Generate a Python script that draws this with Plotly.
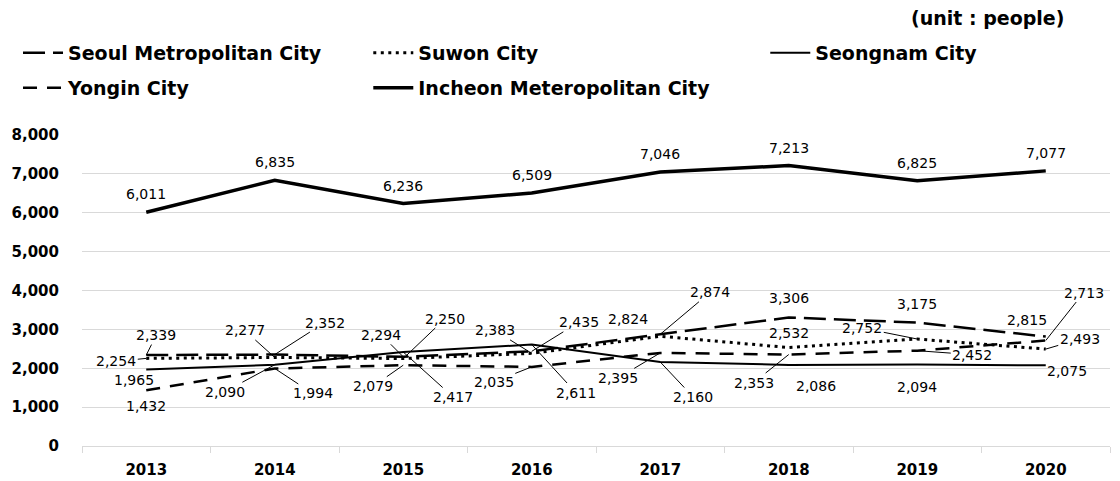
import plotly.graph_objects as go

years = ["2013", "2014", "2015", "2016", "2017", "2018", "2019", "2020"]
seoul = [2339, 2352, 2294, 2435, 2874, 3306, 3175, 2815]
suwon = [2254, 2277, 2250, 2383, 2824, 2532, 2752, 2493]
seongnam = [1965, 2090, 2417, 2611, 2160, 2086, 2094, 2075]
yongin = [1432, 1994, 2079, 2035, 2395, 2353, 2452, 2713]
incheon = [6011, 6835, 6236, 6509, 7046, 7213, 6825, 7077]

names = ["Seoul Metropolitan City", "Suwon City", "Seongnam City",
         "Yongin City", "Incheon Meteropolitan City"]
series = [seoul, suwon, seongnam, yongin, incheon]

FONT = "DejaVu Sans, sans-serif"
styles = [
    dict(color="black", width=2.5, dash="22px,8px"),
    dict(color="black", width=3, dash="3px,4.5px"),
    dict(color="black", width=2, dash="solid"),
    dict(color="black", width=2.5, dash="14px,10px"),
    dict(color="black", width=3.5, dash="solid"),
]

# label placement (pixel offsets from the point, leader line flag)
placements = [
    [(10, -20, True), (50, -32, True), (-22, -22, True), (47, -29, True),
     (50, -42, True), (0, -19, False), (0, -19, False), (-19, -17, False)],
    [(-30, 3, True), (-30, -27, True), (42, -40, True), (-37, -23, True),
     (-32, -17, False), (0, -15, False), (-55, -11, True), (34, -10, True)],
    [(-12, 10, False), (-50, 27, True), (50, 45, True), (44, 48, True),
     (33, 35, True), (27, 21, False), (0, 22, False), (21, 6, False)],
    [(0, 16, False), (38, 25, True), (-30, 21, True), (-38, 15, True),
     (-42, 25, True), (-35, 28, True), (55, 4, True), (38, -48, True)],
    [(0, -18, False)] * 8,
]

W, H = 1112, 473  # page adds an 8px body margin around the figure
legend_pos = [(0.009, 0.905), (0.324, 0.905), (0.681, 0.905), (0.009, 0.831), (0.324, 0.831)]

fig = go.Figure()
legend_ids = ["legend", "legend2", "legend3", "legend4", "legend5"]
for i, (nm, vals) in enumerate(zip(names, series)):
    fig.add_trace(go.Scatter(x=years, y=vals, name=nm, mode="lines",
                             line=styles[i], legend=legend_ids[i]))

annotations = []
for vals, place in zip(series, placements):
    for idx, (v, (dx, dy, lead)) in enumerate(zip(vals, place)):
        txt = f"{v:,}"
        if lead:
            annotations.append(dict(x=idx, y=v, text=txt, showarrow=True, ax=dx, ay=dy,
                                    arrowhead=0, arrowwidth=1, arrowcolor="black",
                                    standoff=0, font=dict(family=FONT, size=14, color="black")))
        else:
            annotations.append(dict(x=idx, y=v, text=txt, showarrow=False,
                                    xshift=dx, yshift=-dy,
                                    font=dict(family=FONT, size=14, color="black")))

annotations.append(dict(xref="paper", yref="paper", x=0.957, y=1.0, yshift=117,
                        xanchor="right", yanchor="middle", text="(unit : people)",
                        showarrow=False,
                        font=dict(family=FONT, size=19, color="black", weight="bold")))

layout_legends = {}
for lid, (lx, ly) in zip(legend_ids, legend_pos):
    layout_legends[lid] = dict(xref="container", yref="container", x=lx, y=ly,
                               xanchor="left", yanchor="middle", itemwidth=40,
                               bgcolor="rgba(0,0,0,0)",
                               font=dict(family=FONT, size=19, color="black", weight="bold"))

fig.update_layout(
    width=W, height=H,
    margin=dict(l=74, r=10, t=127, b=35, autoexpand=False),
    plot_bgcolor="white", paper_bgcolor="white",
    showlegend=True,
    annotations=annotations,
    **layout_legends,
)
fig.update_xaxes(type="category", range=[-0.5, 7.5], autorange=False,
                 showline=True, linecolor="#d9d9d9", linewidth=1,
                 ticks="outside", tickson="boundaries", ticklen=6, tickcolor="#d9d9d9",
                 showgrid=False, automargin=False, tickangle=0, ticklabelstandoff=10,
                 tickfont=dict(family=FONT, size=15, color="black", weight="bold"))
fig.update_yaxes(range=[0, 8000], autorange=False, dtick=1000, tickformat=",", showgrid=True,
                 gridcolor="#d9d9d9", zeroline=False, showline=False, ticks="",
                 ticklabelstandoff=22, automargin=False,
                 tickfont=dict(family=FONT, size=15, color="black", weight="bold"))

fig.write_html("out.html")
